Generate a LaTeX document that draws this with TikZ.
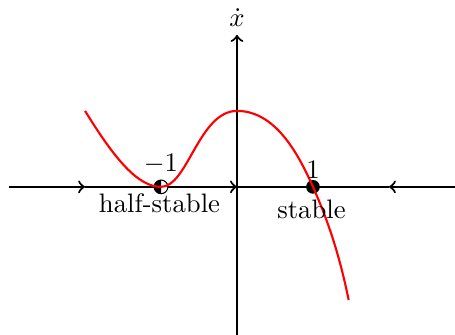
\documentclass[tikz,border=0pt]{standalone}
\usepackage{amsmath}
\usetikzlibrary{arrows,positioning,calc}

\begin{document}
\begin{tikzpicture}[axisline/.style={thick}, flowcurve/.style={red,thick}, every node/.style={font=\normalsize}]
        \useasboundingbox (-3.12,-1.95) rectangle (2.87,2.46);
        % Axis end points and fixed points
        \coordinate (xl) at (-3,0);
        \coordinate (xr) at (2.87,0);
        \coordinate (yb) at (0,-1.95);
        \coordinate (yt) at (0,2);
        \coordinate (o) at (0,0);
        \coordinate (fl) at (-2,0);
        \coordinate (fr) at (2,0);
        \coordinate (hs) at (-1,0);
        \coordinate (st) at (1,0);
        % Phase line with flow direction
        \draw[axisline,->] (xl) -- (fl);
        \draw[axisline,->] (fl) -- (o);
        \draw[axisline] (o) -- (fr);
        \draw[axisline,<-] (fr) -- (xr);
        \draw[axisline,->] (yb) -- (yt);
        \node[inner sep=0pt] (ydot) at (0,2.23) {$\dot{x}$};
        % Fixed points
        \fill (st) circle (0.09);
        \fill[white] (hs) circle (0.09);
        \fill (hs) ++(0,0.09) arc (90:270:0.09) -- cycle;
        \draw (hs) circle (0.09);
        % Right-hand side
        \draw[flowcurve] (-2,1) .. controls (-1.6,0.35) and (-1.3,0) .. (hs)
            .. controls (-0.65,0) and (-0.5,1) .. (0,1)
            .. controls (0.5,1) and (0.8,0.45) .. (st)
            .. controls (1.2,-0.45) and (1.35,-0.9) .. (1.47,-1.49);
        % Labels
        \node (hsval) at (-1,0.3) {$-1$};
        \node (hslab) at (-1.02,-0.21) {half-stable};
        \node (stval) at (1,0.22) {$1$};
        \node (stlab) at (0.98,-0.29) {stable};
    \end{tikzpicture}
\end{document}
